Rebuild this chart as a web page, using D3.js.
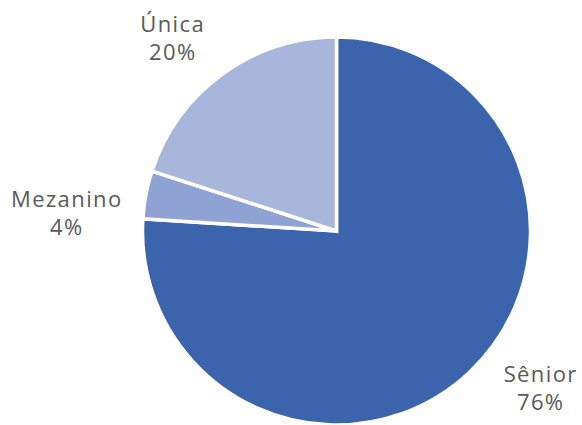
<!DOCTYPE html>
<html><head><meta charset="utf-8">
<script src="https://cdn.jsdelivr.net/npm/d3@7"></script>
<style>html,body{margin:0;padding:0;background:#fff;}svg{display:block;}</style>
</head><body>
<svg id="chart" width="582" height="425"></svg>
<script>
const categories = ["Sênior", "Mezanino", "Única"];
const values = [76, 4, 20];
const colors = ["#3c64ad", "#8fa2d4", "#a9b6dc"];
const percentLabels = ["76%", "4%", "20%"];

// label placement (angle in degrees clockwise from top, radius)
const labelLayout = [
  {angle: 127.65, r: 257},
  {angle: 273.8, r: 271},
  {angle: 319.56, r: 253.6}
];

const svg = d3.select("#chart");
const cx = 336.5, cy = 231, R = 194;
const g = svg.append("g").attr("transform", `translate(${cx},${cy})`);

const data = categories.map((c, i) => ({cat: c, value: values[i], color: colors[i], pct: percentLabels[i], i}));
const pie = d3.pie().value(d => d.value).sort(null);
const arc = d3.arc().innerRadius(0).outerRadius(R);
const arcs = pie(data);

g.selectAll("path").data(arcs).join("path")
  .attr("d", arc)
  .attr("fill", d => d.data.color)
  .attr("stroke", "#fff")
  .attr("stroke-width", 3.5)
  .attr("stroke-linejoin", "miter");

const toRad = a => a * Math.PI / 180;
const labels = g.selectAll("text.lbl").data(arcs).join("text")
  .attr("class", "lbl")
  .attr("text-anchor", "middle")
  .attr("font-family", "'Open Sans', sans-serif")
  .attr("font-size", 22)
  .attr("letter-spacing", 1.4)
  .attr("fill", "#595959")
  .attr("transform", d => {
    const L = labelLayout[d.data.i];
    const a = toRad(L.angle);
    return `translate(${L.r * Math.sin(a) + 0.7},${-L.r * Math.cos(a)})`;
  });
labels.append("tspan").attr("x", 0).attr("y", -6).text(d => d.data.cat);
labels.append("tspan").attr("x", 0).attr("y", 22).text(d => d.data.pct);
</script>
</body></html>
